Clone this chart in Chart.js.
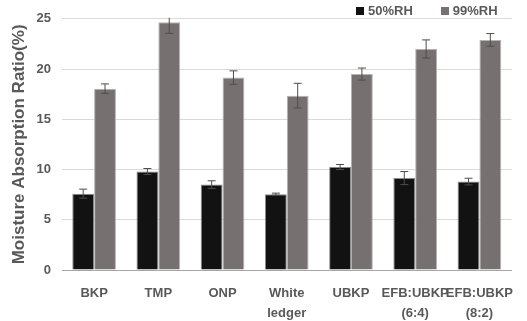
<!DOCTYPE html>
<html>
<head>
<meta charset="utf-8">
<script src="https://cdn.jsdelivr.net/npm/chart.js@4.4.0/dist/chart.umd.min.js"></script>
<style>
  html, body { margin: 0; padding: 0; background: #fff; }
  #wrap { width: 527px; height: 321px; position: relative; }
  #legend { position: absolute; top: 3px; left: 356px; display: flex; gap: 28px;
    font: bold 13px 'Liberation Sans', Arial, sans-serif; color: #595959; }
  #legend span.item { display: flex; align-items: center; }
  #legend i { display: inline-block; width: 8px; height: 8px; margin-right: 4px; }
</style>
</head>
<body>
<div id="wrap"><canvas id="chart"></canvas><div id="legend"></div></div>
<script>
const categories = ["BKP", "TMP", "ONP", ["White", "ledger"], "UBKP", ["EFB:UBKP", "(6:4)"], ["EFB:UBKP", "(8:2)"]];
const rh50 = [7.6, 9.8, 8.5, 7.55, 10.25, 9.15, 8.8];
const rh50Err = [0.45, 0.3, 0.38, 0.1, 0.25, 0.65, 0.33];
const rh99 = [18.05, 24.65, 19.15, 17.35, 19.5, 22.0, 22.9];
const rh99Err = [0.47, 1.1, 0.67, 1.23, 0.6, 0.9, 0.63];
const yTicks = [0, 5, 10, 15, 20, 25];

const textColor = "#595959";
const fontFamily = "'Liberation Sans', Arial, sans-serif";

// draws error bars from the *Err arrays, using the chart's own scales
const errorBars = {
  id: "errorBars",
  afterDatasetsDraw(chart) {
    const c = chart.ctx;
    const y = chart.scales.y;
    const area = chart.chartArea;
    c.save();
    c.beginPath();
    c.rect(area.left, area.top - 1, area.right - area.left, area.bottom - area.top + 2);
    c.clip();
    chart.data.datasets.forEach((ds, di) => {
      const meta = chart.getDatasetMeta(di);
      meta.data.forEach((bar, i) => {
        const v = ds.data[i];
        const e = ds.errors[i];
        const top = y.getPixelForValue(v + e);
        const bot = y.getPixelForValue(v - e);
        c.strokeStyle = "#4d4d4d";
        c.lineWidth = 1;
        c.beginPath();
        c.moveTo(bar.x, top);
        c.lineTo(bar.x, bot);
        c.moveTo(bar.x - 4, top);
        c.lineTo(bar.x + 4, top);
        c.moveTo(bar.x - 4, bot);
        c.lineTo(bar.x + 4, bot);
        c.stroke();
      });
    });
    c.restore();
  },
};

const chart = new Chart(document.getElementById("chart"), {
  type: "bar",
  data: {
    labels: categories,
    datasets: [
      {
        label: "50%RH",
        data: rh50,
        errors: rh50Err,
        backgroundColor: "#121212",
        borderColor: "#8a8a8a",
        borderWidth: 1,
        barPercentage: 1,
        categoryPercentage: 0.68,
      },
      {
        label: "99%RH",
        data: rh99,
        errors: rh99Err,
        backgroundColor: "#767170",
        borderColor: "#b5b2b1",
        borderWidth: 1,
        barPercentage: 1,
        categoryPercentage: 0.68,
      },
    ],
  },
  options: {
    responsive: true,
    maintainAspectRatio: false,
    animation: false,
    layout: { padding: { left: 0, right: 0, top: 16, bottom: -16 } },
    plugins: {
      legend: { display: false },
      tooltip: { enabled: false },
    },
    scales: {
      x: {
        grid: { display: false, drawTicks: false },
        border: { color: "#a6a6a6" },
        ticks: {
          color: textColor,
          padding: 14,
          maxRotation: 0,
          autoSkip: false,
          font: { family: fontFamily, size: 13, weight: "bold", lineHeight: 1.5 },
        },
      },
      y: {
        min: 0,
        max: 25,
        afterBuildTicks: (axis) => { axis.ticks = yTicks.map((v) => ({ value: v })); },
        afterFit: (axis) => { axis.width = 62; },
        grid: { color: "#d9d9d9", drawTicks: false },
        border: { display: false },
        ticks: {
          color: textColor,
          padding: 11,
          font: { family: fontFamily, size: 13, weight: "bold" },
        },
        title: {
          display: true,
          text: "Moisture Absorption Ratio(%)",
          color: textColor,
          padding: { top: 9, bottom: 0 },
          font: { family: fontFamily, size: 17, weight: "bold" },
        },
      },
    },
  },
  plugins: [errorBars],
});

// simple legend built from the datasets
const legendEl = document.getElementById("legend");
chart.data.datasets.forEach((ds) => {
  const item = document.createElement("span");
  item.className = "item";
  const box = document.createElement("i");
  box.style.background = ds.backgroundColor;
  item.appendChild(box);
  item.appendChild(document.createTextNode(ds.label));
  legendEl.appendChild(item);
});
</script>
</body>
</html>
